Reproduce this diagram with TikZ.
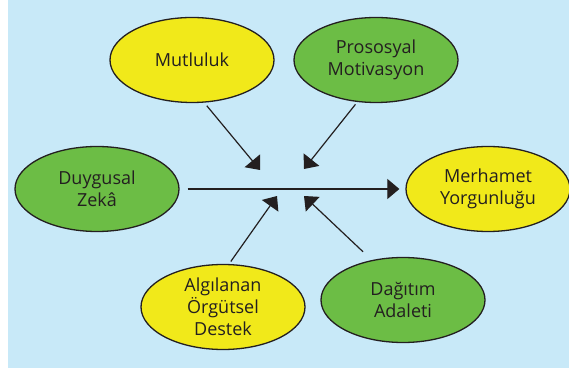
\documentclass[tikz,border=0pt]{standalone}
\usepackage{fontspec}
\setmainfont{Open Sans}
\usetikzlibrary{arrows.meta, shapes.geometric}
\definecolor{Sky}{rgb}{0.784, 0.914, 0.973}
\definecolor{Lemon}{rgb}{0.945, 0.914, 0.102}
\definecolor{Leaf}{rgb}{0.424, 0.741, 0.271}
\definecolor{Ink}{rgb}{0.137, 0.122, 0.125}

\begin{document}
\begin{tikzpicture}[
  x=1pt, y=1pt,
  blob/.style={
    draw=Ink,
    ellipse,
    line width=1.3pt,
    minimum width=164pt,
    minimum height=85pt,
    inner sep=0pt,
    align=center,
    font=\fontsize{18}{22}\selectfont,
    text=Ink
  },
  yellowblob/.style={blob, fill=Lemon},
  greenblob/.style={blob, fill=Leaf},
  arrow/.style={
    -{Triangle[length=12pt, width=20pt]},
    line width=1.2pt,
    color=Ink
  }
]

% Frame
\useasboundingbox (0,0) rectangle (569,374);
\fill[Sky] (8,6) rectangle (569,374);

% Nodes
\node[yellowblob] (mutluluk)  at (192,314) {Mutluluk};
\node[greenblob]  (prososyal) at (376,314) {Prososyal\\Motivasyon};
\node[greenblob]  (duygusal)  at (97,185)  {Duygusal\\Zekâ};
\node[yellowblob] (merhamet)  at (488,185) {Merhamet\\Yorgunluğu};
\node[yellowblob] (algilanan) at (223,67)  {Algılanan\\Örgütsel\\Destek};
\node[greenblob]  (dagitim)   at (403,74)  {Dağıtım\\Adaleti};

% Arrow ends near the main line
\coordinate (tipA) at (260,204);
\coordinate (tipB) at (304,205);
\coordinate (tipC) at (277,178);
\coordinate (tipD) at (304,178);

% Main arrow
\draw[arrow, shorten <=8pt, shorten >=6pt] (duygusal) -- (merhamet);

% Arrows towards the main line
\draw[arrow, shorten <=4pt]  (mutluluk.-74)   -- (tipA);
\draw[arrow, shorten <=3pt]  (prososyal.-114) -- (tipB);
\draw[arrow, shorten <=3pt]  (algilanan.82)   -- (tipC);
\draw[arrow, shorten <=12pt] (dagitim.128)    -- (tipD);

\end{tikzpicture}
\end{document}
